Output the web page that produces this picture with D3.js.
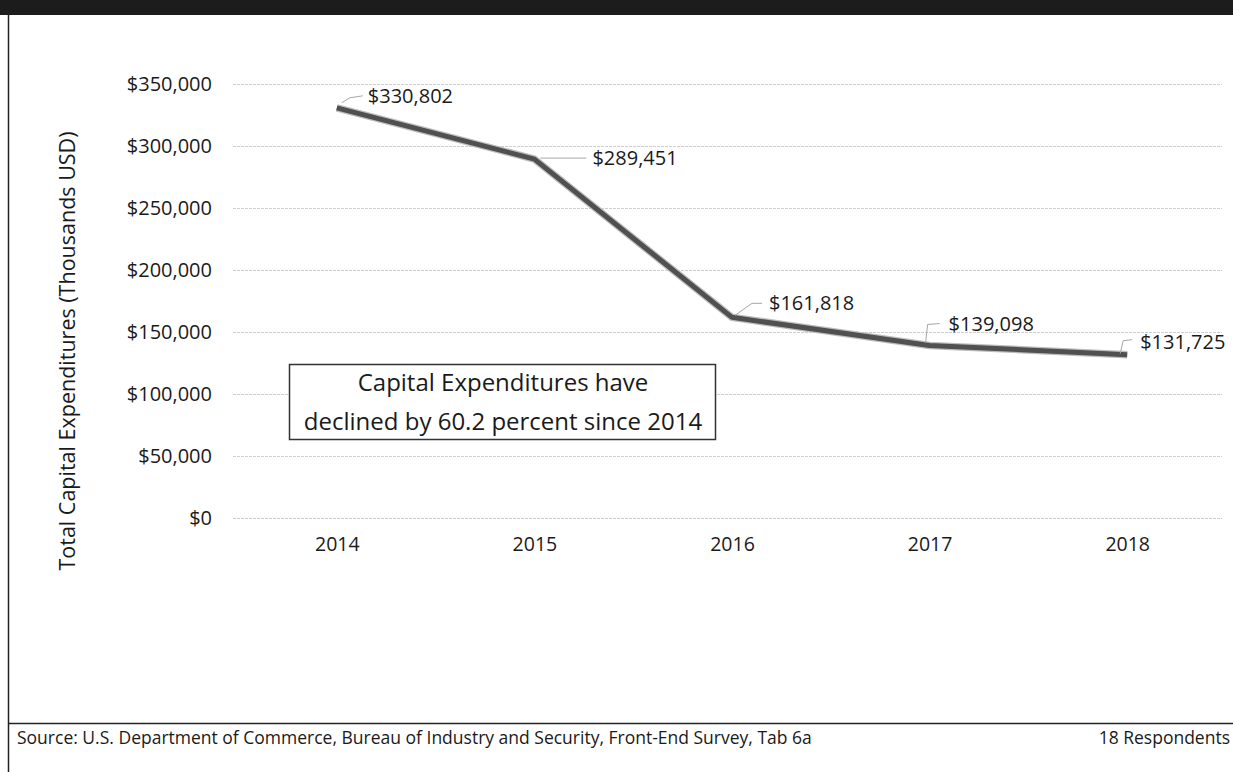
<!DOCTYPE html>
<html>
<head>
<meta charset="utf-8">
<script src="https://cdn.jsdelivr.net/npm/d3@7"></script>
<style>
  body { margin: 0; background: #fff; }
  text { font-family: "Open Sans", "Noto Sans", sans-serif; fill: #1a1a1a; }
</style>
</head>
<body>
<div id="chart"></div>
<script>
// chart values
var years = ["2014", "2015", "2016", "2017", "2018"];
var capex = [330802, 289451, 161818, 139098, 131725];
var yTicks = [0, 50000, 100000, 150000, 200000, 250000, 300000, 350000];
var noteLines = ["Capital Expenditures have", "declined by 60.2 percent since 2014"];
var sourceText = "Source: U.S. Department of Commerce, Bureau of Industry and Security, Front-End Survey, Tab 6a";
var respondentsText = "18 Respondents";
var yTitle = "Total Capital Expenditures (Thousands USD)";

// where each data label sits relative to its point (layout only)
var labelOffsets = [
    {dx: 31, dy: -12, leader: [[5, -5], [13, -10], [26, -12]]},
    {dx: 58, dy: -1, leader: [[6, -1], [52, -1]]},
    {dx: 37, dy: -14, leader: [[3, -2], [20, -14], [30, -14]]},
    {dx: 19, dy: -22, leader: [[-4, -3], [-2, -21], [10, -22]]},
    {dx: 13, dy: -13, leader: [[-7, -1], [-4, -14], [5, -15]]}
];

const W = 1233, H = 772;
var fmt = d3.format("$,");

var svg = d3.select("#chart").append("svg")
    .attr("width", W)
    .attr("height", H);

// frame: dark band on top, left rule, footer rule
svg.append("rect")
    .attr("x", 0).attr("y", 0)
    .attr("width", W).attr("height", 15)
    .attr("fill", "#1c1c1c");
svg.append("line")
    .attr("x1", 8.5).attr("x2", 8.5)
    .attr("y1", 15).attr("y2", H)
    .attr("stroke", "#222").attr("stroke-width", 1.5);
svg.append("line")
    .attr("x1", 8).attr("x2", W)
    .attr("y1", 723.5).attr("y2", 723.5)
    .attr("stroke", "#222").attr("stroke-width", 1.5);

var xScale = d3.scalePoint()
    .domain(years)
    .range([238, 1226])
    .padding(0.5);

var yScale = d3.scaleLinear()
    .domain([0, 350000])
    .range([518, 84]);

// gridlines
svg.append("g")
    .selectAll("line")
    .data(yTicks)
    .enter().append("line")
    .attr("x1", 233)
    .attr("x2", 1222)
    .attr("y1", d => yScale(d) + 0.5)
    .attr("y2", d => yScale(d) + 0.5)
    .attr("stroke", "#cfcfcf")
    .attr("stroke-width", 1)
    .attr("stroke-dasharray", "3,1");

// y axis labels
var yAxis = d3.axisLeft(yScale)
    .tickValues(yTicks)
    .tickFormat(fmt)
    .tickSize(0)
    .tickPadding(0);

var gy = svg.append("g")
    .attr("transform", "translate(212,0)")
    .call(yAxis);
gy.select(".domain").remove();
gy.selectAll("text")
    .style("font-family", "'Open Sans', sans-serif")
    .style("font-size", "20px")
    .attr("fill", "#1a1a1a");

// x axis labels
var xAxis = d3.axisBottom(xScale)
    .tickSize(0)
    .tickPadding(0);

var gx = svg.append("g")
    .attr("transform", "translate(0,537)")
    .call(xAxis);
gx.select(".domain").remove();
gx.selectAll("text")
    .style("font-family", "'Open Sans', sans-serif")
    .style("font-size", "19.5px")
    .attr("fill", "#1a1a1a");

// y axis title
svg.append("text")
    .attr("transform", "translate(67,351) rotate(-90)")
    .attr("text-anchor", "middle")
    .attr("dy", "0.35em")
    .style("font-size", "21.5px")
    .text(yTitle);

// the line
var pts = years.map((y, i) => ({year: y, value: capex[i]}));

var line = d3.line()
    .x(d => xScale(d.year))
    .y(d => yScale(d.value));

svg.append("path")
    .datum(pts)
    .attr("d", line)
    .attr("fill", "none")
    .attr("stroke", "#bdbdbd")
    .attr("stroke-width", 7.5)
    .attr("stroke-linejoin", "round");
svg.append("path")
    .datum(pts)
    .attr("d", line)
    .attr("fill", "none")
    .attr("stroke", "#505050")
    .attr("stroke-width", 5)
    .attr("stroke-linejoin", "round");

// data labels with leader lines
var labels = svg.append("g");
pts.forEach(function(d, i) {
    var px = xScale(d.year), py = yScale(d.value);
    var off = labelOffsets[i];
    labels.append("path")
        .attr("d", d3.line()(off.leader.map(p => [px + p[0], py + p[1]])))
        .attr("fill", "none")
        .attr("stroke", "#a6a6a6")
        .attr("stroke-width", 1);
    labels.append("text")
        .attr("x", px + off.dx)
        .attr("y", py + off.dy)
        .attr("dy", "0.35em")
        .style("font-size", "20px")
        .text(fmt(d.value));
});

// annotation box
var note = svg.append("g");
note.append("rect")
    .attr("x", 289.5).attr("y", 364.5)
    .attr("width", 426).attr("height", 75)
    .attr("fill", "#fff")
    .attr("stroke", "#333")
    .attr("stroke-width", 1.5);
note.selectAll("text")
    .data(noteLines)
    .enter().append("text")
    .attr("x", 503)
    .attr("y", (d, i) => 383 + i * 39)
    .attr("dy", "0.35em")
    .attr("text-anchor", "middle")
    .style("font-size", "24px")
    .text(d => d);

// footer
svg.append("text")
    .attr("x", 17)
    .attr("y", 738)
    .attr("dy", "0.35em")
    .style("font-size", "17.5px")
    .text(sourceText);
svg.append("text")
    .attr("x", 1230)
    .attr("y", 738)
    .attr("dy", "0.35em")
    .attr("text-anchor", "end")
    .style("font-size", "17.5px")
    .text(respondentsText);
</script>
</body>
</html>
